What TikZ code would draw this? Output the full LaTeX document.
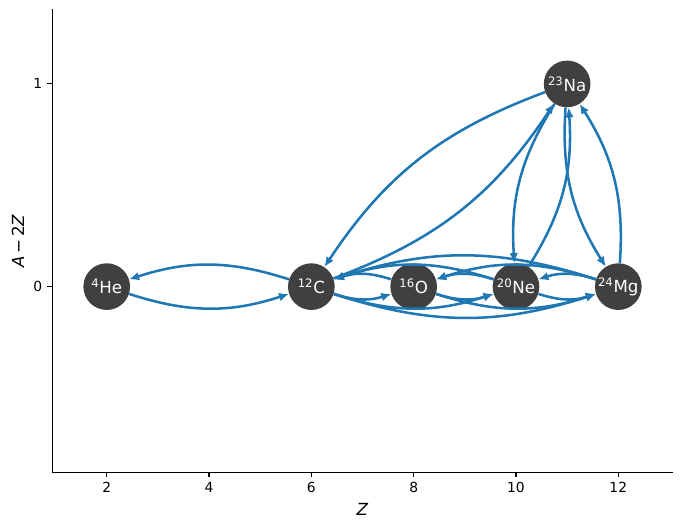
\documentclass[tikz,border=0pt]{standalone}
\usepackage{fontspec}
\setmainfont{DejaVu Sans}
\usetikzlibrary{arrows.meta}
\definecolor{edgeblue}{HTML}{1F77B4}
\definecolor{nucgray}{HTML}{404040}
\tikzset{
    nuc/.style={circle, fill=nucgray, text=white, minimum size=35pt, inner sep=0pt, font=\fontsize{12.5}{14}\selectfont},
    rate/.style={draw=edgeblue, line width=1.9pt, -{Latex[length=7.5pt,width=6.5pt]}, bend right=18},
    spine/.style={line width=0.83pt, line cap=rect},
    ticklab/.style={font=\fontsize{10.4}{12}\selectfont, inner sep=0pt},
    axlab/.style={font=\fontsize{12.5}{14}\selectfont, inner sep=0pt}
}

\begin{document}
\begin{tikzpicture}[x=38.37pt, y=152.03pt]
            \useasboundingbox (-0.086, -1.195) rectangle (13.245, 1.414);

            \draw[spine] (0.936, 1.365) -- (0.936, -0.916) -- (13.06, -0.916);
            \foreach \z in {2, 4, ..., 12} {
                \draw[line width=0.83pt] (\z, -0.916) -- ++(0, -3.65pt);
                \node[ticklab, anchor=north] at ([yshift=-7.3pt]\z, -0.916) {\z};
            }
            \foreach \a in {0, 1} {
                \draw[line width=0.83pt] (0.936, \a) -- ++(-3.65pt, 0);
                \node[ticklab, anchor=east] at ([xshift=-7.3pt]0.936, \a) {\a};
            }
            \node[axlab] (xlab) at (6.998, -1.097) {\itshape Z};
            \node[axlab, rotate=90] (ylab) at (0.266, 0.2245) {{\itshape A}\,−\,2{\itshape Z}};

            \node[nuc] (he4) at (2, 0) {\textsuperscript{4}He};
            \node[nuc] (c12) at (6, 0) {\textsuperscript{12}C};
            \node[nuc] (o16) at (8, 0) {\textsuperscript{16}O};
            \node[nuc] (ne20) at (10, 0) {\textsuperscript{20}Ne};
            \node[nuc] (na23) at (11, 1) {\textsuperscript{23}Na};
            \node[nuc] (mg24) at (12, 0) {\textsuperscript{24}Mg};

            \draw[rate] (he4) to (c12);
            \draw[rate] (c12) to (he4);
            \draw[rate] (c12) to (o16);
            \draw[rate] (o16) to (c12);
            \draw[rate] (c12) to (ne20);
            \draw[rate] (ne20) to (c12);
            \draw[rate] (c12) to (mg24);
            \draw[rate] (mg24) to (c12);
            \draw[rate] (o16) to (ne20);
            \draw[rate] (ne20) to (o16);
            \draw[rate] (o16) to (mg24);
            \draw[rate] (mg24) to (o16);
            \draw[rate] (ne20) to (mg24);
            \draw[rate] (mg24) to (ne20);
            \draw[rate] (c12) to (na23);
            \draw[rate] (na23) to (c12);
            \draw[rate] (ne20) to (na23);
            \draw[rate] (na23) to (ne20);
            \draw[rate] (mg24) to (na23);
            \draw[rate] (na23) to (mg24);
        \end{tikzpicture}
\end{document}
